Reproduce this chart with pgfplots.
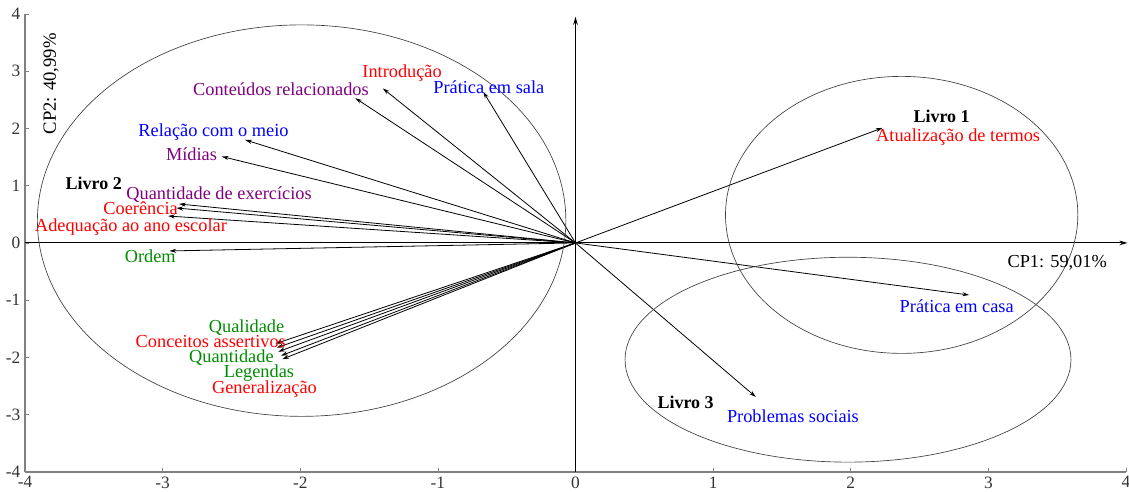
\documentclass[border=0pt]{standalone}
\usepackage{pgfplots}
\pgfplotsset{compat=1.18}
\usepackage{fontspec}
\setmainfont{Liberation Serif}
\usetikzlibrary{arrows.meta}
\definecolor{cred}{RGB}{255,0,0}
\definecolor{cblue}{RGB}{0,0,255}
\definecolor{cpurple}{RGB}{128,0,128}
\definecolor{cgreen}{RGB}{0,140,0}
\begin{document}
\begin{tikzpicture}
\begin{axis}[name=ax, scale only axis, width=826pt, height=343.5pt,
  xmin=-4, xmax=4, ymin=-4, ymax=4,
  axis x line*=bottom, axis y line*=left,
  axis line style={-, gray, line width=1.1pt},
  xtick={-4,...,4}, ytick={-4,...,4},
  xticklabels={-4,-3,-2,-1,0,1,2,3,4},
  yticklabels={-4,-3,-2,-1,0,1,2,3,4},
  tick align=inside, major tick length=3pt,
  tick style={gray, thin},
  ticklabel style={font=\fontsize{13}{15}\selectfont, text=black!80},
  clip=false]
% origin axes
\addplot[black, line width=0.7pt, -{Stealth[length=6pt,width=3.5pt]}] coordinates {(-4,0) (4.01,0)};
\addplot[black, line width=0.7pt, -{Stealth[length=6pt,width=3.5pt]}] coordinates {(0,-4) (0,3.95)};
% loading vectors
\addplot[black, line width=0.6pt, no markers, -{Stealth[length=5pt,width=3pt]},
  quiver={u=\thisrow{u}, v=\thisrow{v}}] table {
x y u v
0 0 2.23 2.01
0 0 2.86 -0.91
0 0 1.31 -2.69
0 0 -0.67 2.64
0 0 -1.40 2.70
0 0 -1.60 2.53
0 0 -2.40 1.80
0 0 -2.57 1.51
0 0 -2.88 0.68
0 0 -2.90 0.61
0 0 -2.96 0.47
0 0 -2.95 -0.14
0 0 -2.18 -1.76
0 0 -2.17 -1.83
0 0 -2.16 -1.90
0 0 -2.14 -1.97
0 0 -2.13 -2.03
};
% ellipses
\draw[black!75, line width=0.5pt] (axis cs:-1.99,0.39) ellipse [x radius=1.92, y radius=3.42];
\draw[black!75, line width=0.5pt] (axis cs:2.37,0.49) ellipse [x radius=1.28, y radius=2.42];
\draw[black!75, line width=0.5pt] (axis cs:1.98,-2.04) ellipse [x radius=1.62, y radius=1.79];
% labels
\tikzset{lab/.style={font=\fontsize{13.75}{15}\selectfont, inner sep=0pt, anchor=center}}
\node[lab, font=\fontsize{13.5}{15}\selectfont\bfseries] at (axis cs:2.66,2.22) {Livro 1};
\node[lab, text=cred] at (axis cs:2.78,1.85) {Atualização de termos};
\node[lab] at (axis cs:3.50,-0.35) {CP1: 59,01\%};
\node[lab, text=cblue] at (axis cs:2.77,-1.10) {Prática em casa};
\node[lab, font=\fontsize{13.5}{15}\selectfont\bfseries] at (axis cs:0.80,-2.79) {Livro 3};
\node[lab, text=cblue] at (axis cs:1.58,-3.02) {Problemas sociais};
\node[lab, text=cred] at (axis cs:-1.26,2.97) {Introdução};
\node[lab, text=cblue] at (axis cs:-0.63,2.72) {Prática em sala};
\node[lab, text=cpurple] at (axis cs:-2.14,2.69) {Conteúdos relacionados};
\node[lab, text=cblue] at (axis cs:-2.63,1.93) {Relação com o meio};
\node[lab, text=cpurple] at (axis cs:-2.79,1.55) {Mídias};
\node[lab, font=\fontsize{13.5}{15}\selectfont\bfseries] at (axis cs:-3.50,1.04) {Livro 2};
\node[lab, text=cpurple] at (axis cs:-2.59,0.85) {Quantidade de exercícios};
\node[lab, text=cred] at (axis cs:-3.16,0.61) {Coerência};
\node[lab, text=cred] at (axis cs:-3.23,0.28) {Adequação ao ano escolar};
\node[lab, text=cgreen] at (axis cs:-3.09,-0.23) {Ordem};
\node[lab, text=cgreen] at (axis cs:-2.39,-1.48) {Qualidade};
\node[lab, text=cred] at (axis cs:-2.65,-1.73) {Conceitos assertivos};
\node[lab, text=cgreen] at (axis cs:-2.50,-2.00) {Quantidade};
\node[lab, text=cgreen] at (axis cs:-2.30,-2.27) {Legendas};
\node[lab, text=cred] at (axis cs:-2.26,-2.55) {Generalização};
\node[lab, rotate=90, font=\fontsize{14}{15}\selectfont] at (axis cs:-3.81,2.78) {CP2: 40,99\%};
\end{axis}
\pgfresetboundingbox
\path[use as bounding box] ([shift={(-18.75pt,-15pt)}]ax.south west) rectangle ([shift={(2.25pt,10.5pt)}]ax.north east);
\end{tikzpicture}
\end{document}
